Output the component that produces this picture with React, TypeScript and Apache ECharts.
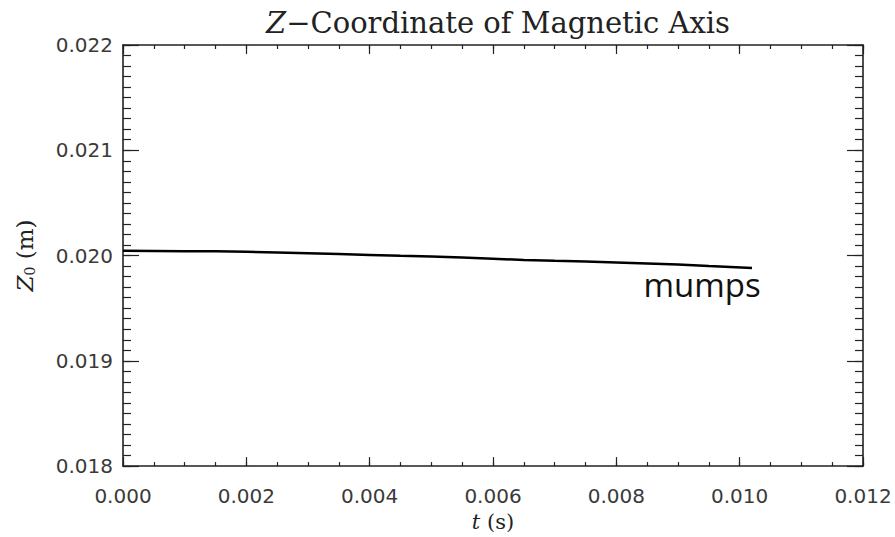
import React, { useEffect, useRef } from "react";
import * as echarts from "echarts";

const titleText = "Z−Coordinate of Magnetic Axis";
const xAxisName = "t (s)";
const yAxisName = "Z0 (m)";
const seriesLabel = "mumps";

const tValues = [0, 0.0005, 0.001, 0.0015, 0.002, 0.0025, 0.003, 0.0035, 0.004, 0.0045, 0.005, 0.0055, 0.006, 0.0065, 0.007, 0.0075, 0.008, 0.0085, 0.009, 0.0095, 0.0102];
const z0Values = [0.020045, 0.020044, 0.020042, 0.02004, 0.020036, 0.02003, 0.020022, 0.020014, 0.020006, 0.019998, 0.019991, 0.019982, 0.01997, 0.019958, 0.01995, 0.019943, 0.019935, 0.019925, 0.019914, 0.0199, 0.019882];

const xMin = 0, xMax = 0.012, xInterval = 0.002, xMinorInterval = 0.0005;
const yMin = 0.018, yMax = 0.022, yInterval = 0.001, yMinorInterval = 0.0001;

export default function App() {
  const ref = useRef<HTMLDivElement>(null);
  useEffect(() => {
    if (!ref.current) return;
    const chart = echarts.init(ref.current, undefined, { renderer: "svg" });
    const axisColor = "#222";
    const labelStyle = {
      fontFamily: "DejaVu Sans",
      fontSize: 20,
      color: "#3a3a3a",
    };
    const serif = "DejaVu Serif";
    const mkX = (pos: string, interval: number, len: number, showLine: boolean, extra: any = {}) => ({
      type: "value",
      position: pos,
      min: xMin,
      max: xMax,
      interval,
      axisLine: { show: showLine, onZero: false, lineStyle: { color: axisColor, width: 1.6 } },
      axisTick: { show: true, inside: true, length: len, lineStyle: { color: axisColor, width: 1.2 } },
      axisLabel: { show: false },
      splitLine: { show: false },
      ...extra,
    });
    const mkY = (pos: string, interval: number, len: number, showLine: boolean, extra: any = {}) => ({
      type: "value",
      position: pos,
      min: yMin,
      max: yMax,
      interval,
      axisLine: { show: showLine, onZero: false, lineStyle: { color: axisColor, width: 1.6 } },
      axisTick: { show: true, inside: true, length: len, lineStyle: { color: axisColor, width: 1.2 } },
      axisLabel: { show: false },
      splitLine: { show: false },
      ...extra,
    });
    const data = tValues.map((t, i) => [t, z0Values[i]]);
    const last = data[data.length - 1];
    chart.setOption({
      animation: false,
      backgroundColor: "#fff",
      title: {
        text: "{i|Z}{n|" + titleText.slice(1) + "}",
        left: 493,
        top: 3,
        textAlign: "center",
        textStyle: {
          fontWeight: "normal",
          rich: {
            i: { fontFamily: serif, fontStyle: "italic", fontWeight: "normal", fontSize: 29, color: "#222" },
            n: { fontFamily: serif, fontWeight: "normal", fontSize: 29, color: "#222" },
          },
        },
      },
      grid: { left: 123, top: 45, right: 32, bottom: 70, containLabel: false },
      xAxis: [
        mkX("bottom", xInterval, 9, true, {
          name: "{i|t}{n| (s)}",
          nameLocation: "middle",
          nameGap: 42,
          nameTextStyle: {
            rich: {
              i: { fontFamily: serif, fontStyle: "italic", fontSize: 21, color: "#222" },
              n: { fontFamily: serif, fontSize: 21, color: "#222" },
            },
          },
          axisLabel: { show: true, ...labelStyle, margin: 20, formatter: (v: number) => v.toFixed(3) },
        }),
        mkX("top", xInterval, 9, true),
        mkX("bottom", xMinorInterval, 4, false),
        mkX("top", xMinorInterval, 4, false),
      ],
      yAxis: [
        mkY("left", yInterval, 16, true, {
          name: "{i|Z}{s|0}{n| (m)}",
          nameLocation: "middle",
          nameRotate: 90,
          nameGap: 86,
          nameTextStyle: {
            rich: {
              i: { fontFamily: serif, fontStyle: "italic", fontSize: 23, color: "#222" },
              s: { fontFamily: serif, fontSize: 14, color: "#222", verticalAlign: "bottom", padding: [10, 0, 0, 0] },
              n: { fontFamily: serif, fontSize: 23, color: "#222" },
            },
          },
          axisLabel: { show: true, ...labelStyle, margin: 10, formatter: (v: number) => v.toFixed(3) },
        }),
        mkY("right", yInterval, 16, true),
        mkY("left", yMinorInterval, 8, false),
        mkY("right", yMinorInterval, 8, false),
      ],
      series: [
        {
          type: "line",
          xAxisIndex: 0,
          yAxisIndex: 0,
          data,
          showSymbol: false,
          symbol: "none",
          lineStyle: { color: "#000", width: 2.5 },
          markPoint: {
            symbol: "circle",
            symbolSize: 0,
            data: [{ coord: last, value: seriesLabel }],
            label: {
              show: true,
              position: "inside",
              offset: [-50, 17],
              formatter: seriesLabel,
              fontFamily: "Open Sans",
              fontSize: 33,
              color: "#111",
            },
          },
        },
      ],
    });
    return () => chart.dispose();
  }, []);
  return <div ref={ref} style={{ position: "fixed", left: 0, top: 0, width: 895, height: 537 }} />;
}
